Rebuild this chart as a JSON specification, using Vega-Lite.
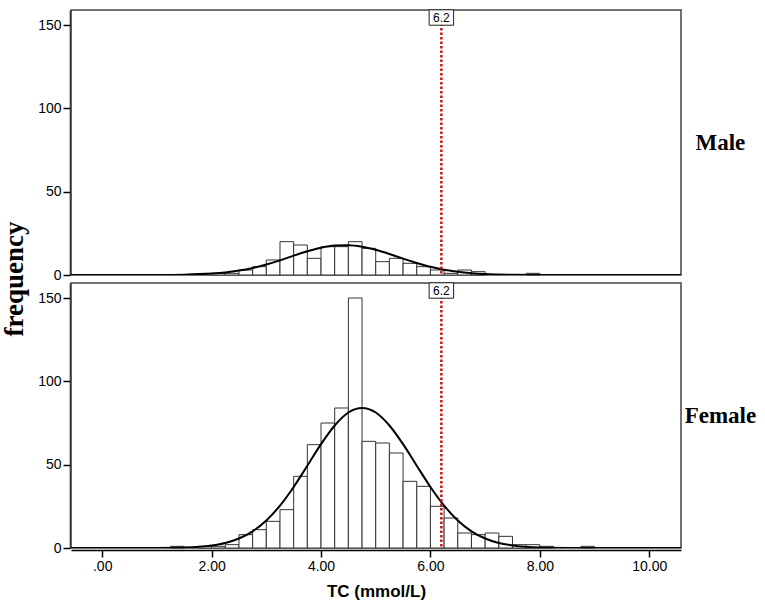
{
  "$schema": "https://vega.github.io/schema/vega-lite/v6.json",
  "background": "white",
  "padding": {"left": 0, "top": 7, "right": 0, "bottom": 5},
  "data": {"values": [
    {"kind": "bar", "sex": "Male", "x": 2.0, "xe": 2.25, "y": 1},
    {"kind": "bar", "sex": "Male", "x": 2.25, "xe": 2.5, "y": 1},
    {"kind": "bar", "sex": "Male", "x": 2.5, "xe": 2.75, "y": 3},
    {"kind": "bar", "sex": "Male", "x": 2.75, "xe": 3.0, "y": 5},
    {"kind": "bar", "sex": "Male", "x": 3.0, "xe": 3.25, "y": 9},
    {"kind": "bar", "sex": "Male", "x": 3.25, "xe": 3.5, "y": 20},
    {"kind": "bar", "sex": "Male", "x": 3.5, "xe": 3.75, "y": 18},
    {"kind": "bar", "sex": "Male", "x": 3.75, "xe": 4.0, "y": 10},
    {"kind": "bar", "sex": "Male", "x": 4.0, "xe": 4.25, "y": 17},
    {"kind": "bar", "sex": "Male", "x": 4.25, "xe": 4.5, "y": 17},
    {"kind": "bar", "sex": "Male", "x": 4.5, "xe": 4.75, "y": 20},
    {"kind": "bar", "sex": "Male", "x": 4.75, "xe": 5.0, "y": 16},
    {"kind": "bar", "sex": "Male", "x": 5.0, "xe": 5.25, "y": 8},
    {"kind": "bar", "sex": "Male", "x": 5.25, "xe": 5.5, "y": 10},
    {"kind": "bar", "sex": "Male", "x": 5.5, "xe": 5.75, "y": 7},
    {"kind": "bar", "sex": "Male", "x": 5.75, "xe": 6.0, "y": 5},
    {"kind": "bar", "sex": "Male", "x": 6.0, "xe": 6.25, "y": 3},
    {"kind": "bar", "sex": "Male", "x": 6.25, "xe": 6.5, "y": 1},
    {"kind": "bar", "sex": "Male", "x": 6.5, "xe": 6.75, "y": 3},
    {"kind": "bar", "sex": "Male", "x": 6.75, "xe": 7.0, "y": 2},
    {"kind": "bar", "sex": "Male", "x": 7.75, "xe": 8.0, "y": 1},
    {"kind": "bar", "sex": "Female", "x": 1.25, "xe": 1.5, "y": 1},
    {"kind": "bar", "sex": "Female", "x": 1.75, "xe": 2.0, "y": 1},
    {"kind": "bar", "sex": "Female", "x": 2.0, "xe": 2.25, "y": 1},
    {"kind": "bar", "sex": "Female", "x": 2.25, "xe": 2.5, "y": 2},
    {"kind": "bar", "sex": "Female", "x": 2.5, "xe": 2.75, "y": 8},
    {"kind": "bar", "sex": "Female", "x": 2.75, "xe": 3.0, "y": 11},
    {"kind": "bar", "sex": "Female", "x": 3.0, "xe": 3.25, "y": 16},
    {"kind": "bar", "sex": "Female", "x": 3.25, "xe": 3.5, "y": 23},
    {"kind": "bar", "sex": "Female", "x": 3.5, "xe": 3.75, "y": 43},
    {"kind": "bar", "sex": "Female", "x": 3.75, "xe": 4.0, "y": 62},
    {"kind": "bar", "sex": "Female", "x": 4.0, "xe": 4.25, "y": 75},
    {"kind": "bar", "sex": "Female", "x": 4.25, "xe": 4.5, "y": 84},
    {"kind": "bar", "sex": "Female", "x": 4.5, "xe": 4.75, "y": 150},
    {"kind": "bar", "sex": "Female", "x": 4.75, "xe": 5.0, "y": 64},
    {"kind": "bar", "sex": "Female", "x": 5.0, "xe": 5.25, "y": 63},
    {"kind": "bar", "sex": "Female", "x": 5.25, "xe": 5.5, "y": 57},
    {"kind": "bar", "sex": "Female", "x": 5.5, "xe": 5.75, "y": 40},
    {"kind": "bar", "sex": "Female", "x": 5.75, "xe": 6.0, "y": 37},
    {"kind": "bar", "sex": "Female", "x": 6.0, "xe": 6.25, "y": 25},
    {"kind": "bar", "sex": "Female", "x": 6.25, "xe": 6.5, "y": 18},
    {"kind": "bar", "sex": "Female", "x": 6.5, "xe": 6.75, "y": 9},
    {"kind": "bar", "sex": "Female", "x": 6.75, "xe": 7.0, "y": 8},
    {"kind": "bar", "sex": "Female", "x": 7.0, "xe": 7.25, "y": 9},
    {"kind": "bar", "sex": "Female", "x": 7.25, "xe": 7.5, "y": 7},
    {"kind": "bar", "sex": "Female", "x": 7.5, "xe": 7.75, "y": 2},
    {"kind": "bar", "sex": "Female", "x": 7.75, "xe": 8.0, "y": 2},
    {"kind": "bar", "sex": "Female", "x": 8.0, "xe": 8.25, "y": 1},
    {"kind": "bar", "sex": "Female", "x": 8.75, "xe": 9.0, "y": 1},
    {"kind": "curve", "sex": "Male", "x": -0.57, "y": 0},
    {"kind": "curve", "sex": "Male", "x": 0.5, "y": 0},
    {"kind": "curve", "sex": "Male", "x": 1.0, "y": 0.04},
    {"kind": "curve", "sex": "Male", "x": 1.5, "y": 0.21},
    {"kind": "curve", "sex": "Male", "x": 2.0, "y": 0.85},
    {"kind": "curve", "sex": "Male", "x": 2.25, "y": 1.55},
    {"kind": "curve", "sex": "Male", "x": 2.5, "y": 2.64},
    {"kind": "curve", "sex": "Male", "x": 2.75, "y": 4.21},
    {"kind": "curve", "sex": "Male", "x": 3.0, "y": 6.3},
    {"kind": "curve", "sex": "Male", "x": 3.25, "y": 8.8},
    {"kind": "curve", "sex": "Male", "x": 3.5, "y": 11.6},
    {"kind": "curve", "sex": "Male", "x": 3.75, "y": 14.2},
    {"kind": "curve", "sex": "Male", "x": 4.0, "y": 16.4},
    {"kind": "curve", "sex": "Male", "x": 4.25, "y": 17.7},
    {"kind": "curve", "sex": "Male", "x": 4.5, "y": 17.9},
    {"kind": "curve", "sex": "Male", "x": 4.75, "y": 17.0},
    {"kind": "curve", "sex": "Male", "x": 5.0, "y": 15.1},
    {"kind": "curve", "sex": "Male", "x": 5.25, "y": 12.6},
    {"kind": "curve", "sex": "Male", "x": 5.5, "y": 9.8},
    {"kind": "curve", "sex": "Male", "x": 5.75, "y": 7.2},
    {"kind": "curve", "sex": "Male", "x": 6.0, "y": 4.9},
    {"kind": "curve", "sex": "Male", "x": 6.25, "y": 3.15},
    {"kind": "curve", "sex": "Male", "x": 6.5, "y": 1.89},
    {"kind": "curve", "sex": "Male", "x": 6.75, "y": 1.06},
    {"kind": "curve", "sex": "Male", "x": 7.0, "y": 0.56},
    {"kind": "curve", "sex": "Male", "x": 7.5, "y": 0.13},
    {"kind": "curve", "sex": "Male", "x": 8.0, "y": 0.02},
    {"kind": "curve", "sex": "Male", "x": 9.0, "y": 0},
    {"kind": "curve", "sex": "Male", "x": 10.58, "y": 0},
    {"kind": "curve", "sex": "Female", "x": -0.57, "y": 0},
    {"kind": "curve", "sex": "Female", "x": 0.5, "y": 0},
    {"kind": "curve", "sex": "Female", "x": 1.0, "y": 0.05},
    {"kind": "curve", "sex": "Female", "x": 1.5, "y": 0.31},
    {"kind": "curve", "sex": "Female", "x": 2.0, "y": 1.51},
    {"kind": "curve", "sex": "Female", "x": 2.25, "y": 3.03},
    {"kind": "curve", "sex": "Female", "x": 2.5, "y": 5.7},
    {"kind": "curve", "sex": "Female", "x": 2.75, "y": 10.0},
    {"kind": "curve", "sex": "Female", "x": 3.0, "y": 16.5},
    {"kind": "curve", "sex": "Female", "x": 3.25, "y": 25.4},
    {"kind": "curve", "sex": "Female", "x": 3.5, "y": 36.6},
    {"kind": "curve", "sex": "Female", "x": 3.75, "y": 49.4},
    {"kind": "curve", "sex": "Female", "x": 4.0, "y": 62.3},
    {"kind": "curve", "sex": "Female", "x": 4.25, "y": 73.5},
    {"kind": "curve", "sex": "Female", "x": 4.5, "y": 81.3},
    {"kind": "curve", "sex": "Female", "x": 4.75, "y": 84},
    {"kind": "curve", "sex": "Female", "x": 5.0, "y": 81.3},
    {"kind": "curve", "sex": "Female", "x": 5.25, "y": 73.5},
    {"kind": "curve", "sex": "Female", "x": 5.5, "y": 62.3},
    {"kind": "curve", "sex": "Female", "x": 5.75, "y": 49.4},
    {"kind": "curve", "sex": "Female", "x": 6.0, "y": 36.6},
    {"kind": "curve", "sex": "Female", "x": 6.25, "y": 25.4},
    {"kind": "curve", "sex": "Female", "x": 6.5, "y": 16.5},
    {"kind": "curve", "sex": "Female", "x": 6.75, "y": 10.0},
    {"kind": "curve", "sex": "Female", "x": 7.0, "y": 5.7},
    {"kind": "curve", "sex": "Female", "x": 7.25, "y": 3.03},
    {"kind": "curve", "sex": "Female", "x": 7.5, "y": 1.51},
    {"kind": "curve", "sex": "Female", "x": 8.0, "y": 0.31},
    {"kind": "curve", "sex": "Female", "x": 8.5, "y": 0.05},
    {"kind": "curve", "sex": "Female", "x": 9.0, "y": 0},
    {"kind": "curve", "sex": "Female", "x": 10.58, "y": 0},
    {"kind": "cut", "sex": "Male", "x": 6.2},
    {"kind": "cut", "sex": "Female", "x": 6.2}
  ]},
  "facet": {
    "row": {
      "field": "sex",
      "type": "nominal",
      "sort": ["Male", "Female"],
      "header": {
        "title": "frequency",
        "titleFont": "Liberation Serif",
        "titleFontSize": 27,
        "titleFontWeight": "bold",
        "titleColor": "black",
        "titleOrient": "left",
        "titlePadding": -2,
        "labels": false
      }
    }
  },
  "spacing": 3,
  "spec": {
    "width": 610,
    "height": 265,
    "encoding": {
      "x": {
        "field": "x",
        "type": "quantitative",
        "scale": {"domain": [-0.57, 10.58], "nice": false, "zero": false},
        "axis": {
          "title": "TC (mmol/L)",
          "values": [0, 2, 4, 6, 8, 10],
          "labelExpr": "datum.value == 0 ? '.00' : format(datum.value, '.2f')",
          "titleFont": "Liberation Sans",
          "titleFontSize": 17,
          "titleFontWeight": "bold",
          "titleColor": "black",
          "titlePadding": 10
        }
      }
    },
    "layer": [
      {
        "transform": [{"filter": "datum.kind == 'bar'"}],
        "mark": {"type": "rect", "fill": "white", "stroke": "#333333", "strokeWidth": 1},
        "encoding": {
          "x2": {"field": "xe"},
          "y": {
            "field": "y",
            "type": "quantitative",
            "scale": {"domain": [0, 159], "nice": false},
            "axis": {"title": null, "values": [0, 50, 100, 150]}
          },
          "y2": {"datum": 0}
        }
      },
      {
        "transform": [{"filter": "datum.kind == 'curve'"}],
        "mark": {"type": "line", "color": "black", "strokeWidth": 2, "interpolate": "monotone", "clip": true},
        "encoding": {
          "y": {"field": "y", "type": "quantitative"}
        }
      },
      {
        "transform": [{"filter": "datum.kind == 'cut'"}],
        "mark": {"type": "rule", "color": "#cc1111", "strokeWidth": 2.5, "strokeDash": [2.5, 2]},
        "encoding": {}
      },
      {
        "transform": [{"filter": "datum.kind == 'cut'"}],
        "mark": {"type": "point", "shape": "M-1,-0.63L1,-0.63L1,0.63L-1,0.63Z", "size": 600, "filled": true, "fill": "white", "stroke": "#222222", "strokeWidth": 1, "opacity": 1, "yOffset": -7.5},
        "encoding": {
          "y": {"datum": 150, "type": "quantitative"}
        }
      },
      {
        "transform": [{"filter": "datum.kind == 'cut'"}],
        "mark": {"type": "text", "font": "Liberation Sans", "fontSize": 12, "color": "black", "baseline": "middle", "align": "center", "yOffset": -7},
        "encoding": {
          "y": {"datum": 150, "type": "quantitative"},
          "text": {"field": "x", "type": "quantitative", "format": ".1f"}
        }
      },
      {
        "transform": [{"filter": "datum.kind == 'cut'"}],
        "mark": {"type": "text", "font": "Liberation Serif", "fontSize": 23, "fontWeight": "bold", "color": "black", "baseline": "middle", "align": "center"},
        "encoding": {
          "x": {"datum": 11.3, "type": "quantitative"},
          "y": {"datum": 79.5, "type": "quantitative"},
          "text": {"field": "sex", "type": "nominal"}
        }
      }
    ]
  },
  "config": {
    "view": {"stroke": "#444444", "strokeWidth": 1.5},
    "axis": {
      "grid": false,
      "labelFont": "Liberation Sans",
      "labelFontSize": 14,
      "labelColor": "black",
      "labelPadding": 2,
      "tickColor": "black",
      "tickSize": 7,
      "tickWidth": 1.5,
      "domainColor": "black",
      "domainWidth": 1.5
    }
  }
}
